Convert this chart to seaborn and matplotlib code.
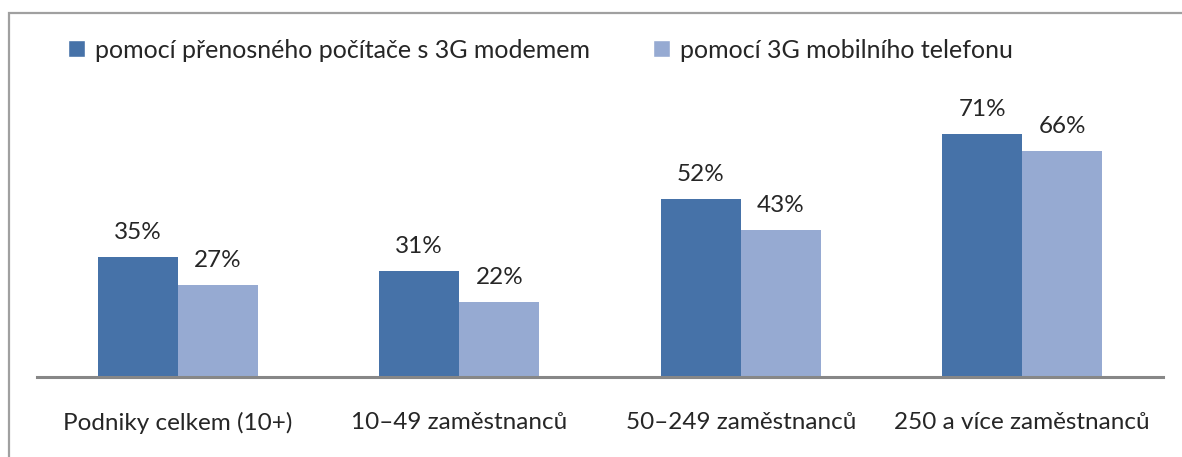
import matplotlib
matplotlib.use("Agg")
import matplotlib.pyplot as plt
import pandas as pd
import seaborn as sns
from matplotlib.patches import Rectangle

categories = ["Podniky celkem (10+)", "10–49 zaměstnanců", "50–249 zaměstnanců", "250 a více zaměstnanců"]
series_names = ["pomocí přenosného počítače s 3G modemem", "pomocí 3G mobilního telefonu"]
notebook_modem = [35, 31, 52, 71]
mobile_phone = [27, 22, 43, 66]
colors = ["#4672A8", "#96AAD2"]

df = pd.DataFrame({
    "kategorie": categories * 2,
    "hodnota": notebook_modem + mobile_phone,
    "zpusob": [series_names[0]] * 4 + [series_names[1]] * 4,
})

sns.set_style("white")
plt.rcParams["font.family"] = ["Lato", "DejaVu Sans"]

W, H = 1182, 457
fig = plt.figure(figsize=(W / 100, H / 100), dpi=100)

# frame around the chart area (left and top visible)
fig.add_artist(Rectangle((9 / W, -0.1), 1.2, 1 - 13 / H + 0.1, transform=fig.transFigure,
                         fill=False, edgecolor="#A0A0A0", linewidth=1.6))

ymax = 80
ax_bottom = (H - 377) / H
ax_top = (H - (377 - ymax * 3.42)) / H
ax = fig.add_axes([37 / W, ax_bottom, (1163 - 37) / W, ax_top - ax_bottom])

sns.barplot(data=df, x="kategorie", y="hodnota", hue="zpusob", palette=colors,
            width=0.57, gap=0, saturation=1, linewidth=0, ax=ax, legend=False)

for cont in ax.containers:
    ax.bar_label(cont, labels=[f"{v:.0f}%" for v in cont.datavalues], padding=10, fontsize=17.5)

ax.set_ylim(0, ymax)
ax.set_xlim(-0.5, 3.5)
ax.set_xlabel("")
ax.set_ylabel("")
ax.set_yticks([])
for s in ["top", "right", "left"]:
    ax.spines[s].set_visible(False)
ax.spines["bottom"].set_color("#878787")
ax.spines["bottom"].set_linewidth(2.2)
ax.tick_params(axis="x", length=0, pad=25, labelsize=17.5)

handles = [Rectangle((0, 0), 1, 1, facecolor=c) for c in colors]
fig.legend(handles, series_names, loc="center left", bbox_to_anchor=(68 / W, 1 - 50 / H),
           ncol=2, frameon=False, fontsize=18, handlelength=0.68, handleheight=0.68,
           handletextpad=0.4, columnspacing=2.5, borderpad=0, borderaxespad=0)

fig.savefig("out.png", dpi=100)
